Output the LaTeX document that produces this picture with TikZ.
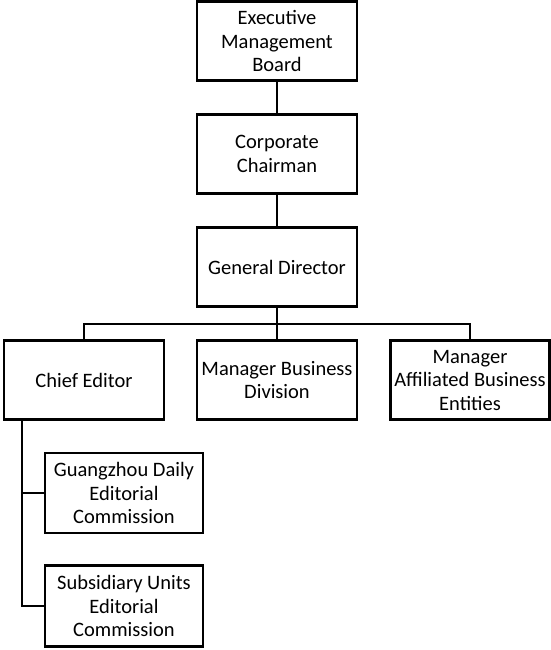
\documentclass[tikz,border=0pt]{standalone}
\usepackage{fontspec}
\setmainfont{Carlito}
\begin{document}
\begin{tikzpicture}[x=1pt,y=-1pt,
  unit/.style={draw, line width=2.5pt, minimum width=160pt, minimum height=79pt,
    inner sep=0pt, align=center, font=\fontsize{20.5}{23.5}\selectfont},
  link/.style={line width=2.5pt}]
\useasboundingbox (0,0) rectangle (550,650);

% top chain
\node[unit] (emb) at (277,41) {Executive\\Management\\Board};
\node[unit] (cc)  at (277,154) {Corporate\\Chairman};
\node[unit] (gd)  at (277,267) {General Director};

% second level
\node[unit] (ce)   at (84,380)  {Chief Editor};
\node[unit] (mbd)  at (277,380) {Manager Business\\Division};
\node[unit, minimum width=159pt] (mabe) at (470,380) {Manager\\Affiliated Business\\Entities};

% editorial commissions
\node[unit, minimum width=158pt, minimum height=80pt] (gdec) at (124,493) {Guangzhou Daily\\Editorial\\Commission};
\node[unit, minimum width=158pt, minimum height=81pt] (suec) at (124,606) {Subsidiary Units\\Editorial\\Commission};

\coordinate (bus) at (277,324);
\coordinate (spine) at (22,500);

\draw[link] (emb.south) -- (cc.north);
\draw[link] (cc.south) -- (gd.north);
\draw[link] (gd.south) -- (mbd.north);
\draw[link] (ce.north) -- (ce.north |- bus) -- (mabe.north |- bus) -- (mabe.north);
\draw[link] (ce.south -| spine) -- (spine |- suec.west) -- (suec.west);
\draw[link] (spine |- gdec.west) -- (gdec.west);
\end{tikzpicture}
\end{document}
